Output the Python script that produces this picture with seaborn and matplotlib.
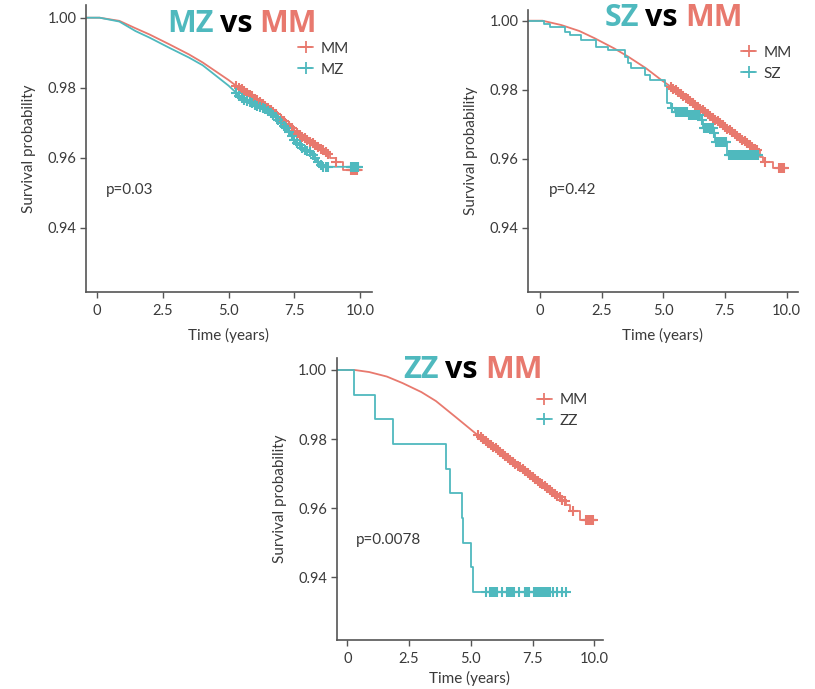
import numpy as np
import pandas as pd
import matplotlib
matplotlib.use("Agg")
import matplotlib.pyplot as plt
from matplotlib.lines import Line2D
import seaborn as sns

sns.set_theme(style="ticks")
plt.rcParams['font.family'] = ['Lato', 'DejaVu Sans']

TEAL = "#4fb9be"
RED = "#e8796e"

# ---------------- Panel 1: MZ vs MM ----------------
mm1_t = [-0.42, 0.1, 0.85, 1.46, 2.0, 2.75, 3.5, 4.02, 5.0,
         5.3, 5.4, 5.5, 5.6, 5.7, 5.8, 5.9, 6.0, 6.1, 6.2, 6.3, 6.4, 6.5, 6.6, 6.7, 6.8, 6.9, 7.0,
         7.1, 7.2, 7.3, 7.4, 7.5, 7.6, 7.7, 7.8, 7.9, 8.0, 8.1, 8.2, 8.3, 8.4, 8.5, 8.6, 8.7, 8.8]
mm1_s = [1.0, 1.0, 0.9991, 0.9970, 0.9952, 0.9924, 0.9895, 0.9872, 0.9822,
         0.9805, 0.9800, 0.9795, 0.9790, 0.9785, 0.9780, 0.9775, 0.9769, 0.9764, 0.9759, 0.9754,
         0.9749, 0.9743, 0.9737, 0.9730, 0.9724, 0.9717, 0.9711, 0.9704, 0.9697, 0.9690, 0.9684,
         0.9677, 0.9671, 0.9666, 0.9660, 0.9655, 0.9650, 0.9645, 0.9641, 0.9636, 0.9631, 0.9626,
         0.9622, 0.9617, 0.9612]
mm1_tail_t = [8.8, 8.85, 9.1, 9.35, 10.06]
mm1_tail_s = [0.9612, 0.9600, 0.9589, 0.9565, 0.9565]
mm1_cens_t = [9.1, 9.65, 9.7, 9.75, 9.8, 9.85, 9.9]
mm1_cens_s = [0.9589, 0.9565, 0.9565, 0.9565, 0.9565, 0.9565, 0.9565]

mz1_t = [-0.42, 0.1, 0.85, 1.46, 2.0, 2.75, 3.5, 4.02, 5.0,
         5.3, 5.4, 5.5, 5.6, 5.7, 5.8, 5.9, 6.0, 6.1, 6.2, 6.3, 6.4, 6.5, 6.6, 6.7, 6.8, 6.9, 7.0,
         7.1, 7.2, 7.3, 7.4, 7.5, 7.6, 7.7, 7.8, 7.9, 8.0, 8.1, 8.2, 8.3, 8.4, 8.5, 8.6, 8.7, 8.8,
         9.65, 9.7, 9.75, 9.8, 9.85, 9.9, 9.94]
mz1_s = [1.0, 1.0, 0.9989, 0.9962, 0.9943, 0.9914, 0.9886, 0.9864, 0.9806,
         0.9785, 0.9777, 0.9771, 0.9766, 0.9762, 0.9758, 0.9755, 0.9752, 0.9749, 0.9746, 0.9742,
         0.9738, 0.9733, 0.9727, 0.9721, 0.9715, 0.9709, 0.9700, 0.9692, 0.9684, 0.9674, 0.9663,
         0.9652, 0.9643, 0.9636, 0.9629, 0.9623, 0.9619, 0.9615, 0.9607, 0.9598, 0.9589, 0.9580,
         0.9574, 0.9574, 0.9574,
         0.9574, 0.9574, 0.9574, 0.9574, 0.9574, 0.9574, 0.9574]

# ---------------- Panel 2: SZ vs MM ----------------
mm2_t = [-0.49, 0.1, 0.86, 1.6, 2.22, 3.0, 3.57, 4.3, 4.92,
         5.3, 5.4, 5.5, 5.6, 5.7, 5.8, 5.9, 6.0, 6.1, 6.2, 6.3, 6.4, 6.5, 6.6, 6.7, 6.8, 6.9, 7.0,
         7.1, 7.2, 7.3, 7.4, 7.5, 7.6, 7.7, 7.8, 7.9, 8.0, 8.1, 8.2, 8.3, 8.4, 8.5, 8.6, 8.7, 8.8]
mm2_s = [1.0, 1.0, 0.99875, 0.9970, 0.9949, 0.9920, 0.9896, 0.9862, 0.9828,
         0.9809, 0.9803, 0.9798, 0.9793, 0.9788, 0.9782, 0.9777, 0.9772, 0.9767, 0.9761, 0.9756,
         0.9751, 0.9745, 0.9740, 0.9735, 0.9729, 0.9724, 0.9719, 0.9713, 0.9708, 0.9703, 0.9697,
         0.9692, 0.9687, 0.9682, 0.9676, 0.9671, 0.9666, 0.9661, 0.9655, 0.9650, 0.9645, 0.9640,
         0.9634, 0.9629, 0.9624]
mm2_tail_t = [8.8, 8.9, 9.05, 9.45, 10.05]
mm2_tail_s = [0.9624, 0.9606, 0.9591, 0.9572, 0.9572]
mm2_cens_t = [9.12, 9.7, 9.75, 9.8, 9.85, 9.9]
mm2_cens_s = [0.9591, 0.9572, 0.9572, 0.9572, 0.9572, 0.9572]

sz_t = [-0.49, 0.16, 0.39, 1.0, 1.2, 1.68, 2.28, 2.76, 3.43, 3.57, 3.7, 4.24, 4.45,
        5.05, 5.13, 5.33, 5.47, 6.0, 6.49, 6.62, 7.03, 7.1, 7.57, 8.86]
sz_s = [1.0, 0.9990, 0.9981, 0.9968, 0.9959, 0.9944, 0.9925, 0.9915, 0.9896, 0.9876, 0.9862, 0.9843, 0.9828,
        0.9810, 0.9762, 0.9748, 0.9736, 0.9727, 0.9712, 0.9688, 0.9674, 0.9649, 0.9611, 0.9611]
sz_cens_t = [5.35,
             5.5, 5.55, 5.6, 5.65, 5.7, 5.75, 5.8, 5.85, 5.9, 5.95,
             6.05, 6.1, 6.15, 6.2, 6.25, 6.3, 6.35, 6.4, 6.45,
             6.55,
             6.65, 6.7, 6.75, 6.8, 6.85, 6.9, 6.95, 7.0,
             7.05,
             7.15, 7.2, 7.25, 7.3, 7.35, 7.4, 7.45, 7.5, 7.55,
             7.65, 7.7, 7.75, 7.8, 7.85, 7.9, 7.95, 8.0, 8.05, 8.1, 8.15, 8.2, 8.25,
             8.3, 8.35, 8.4, 8.45, 8.5, 8.55, 8.6, 8.65, 8.7, 8.75, 8.8, 8.85]
sz_cens_s = ([0.9748] + [0.9736] * 10 + [0.9727] * 9 + [0.9712] + [0.9688] * 8 + [0.9674]
             + [0.9649] * 9 + [0.9611] * 25)

# ---------------- Panel 3: ZZ vs MM ----------------
mm3_t = [-0.43, 0.3, 0.89, 1.6, 2.24, 3.0, 3.59, 4.4, 5.2,
         5.3, 5.4, 5.5, 5.6, 5.7, 5.8, 5.9, 6.0, 6.1, 6.2, 6.3, 6.4, 6.5, 6.6, 6.7, 6.8, 6.9, 7.0,
         7.1, 7.2, 7.3, 7.4, 7.5, 7.6, 7.7, 7.8, 7.9, 8.0, 8.1, 8.2, 8.3, 8.4, 8.5, 8.6, 8.7, 8.8]
mm3_s = [1.0, 1.0, 0.9994, 0.9981, 0.9962, 0.9936, 0.9910, 0.9863, 0.9816,
         0.9811, 0.9806, 0.9800, 0.9795, 0.9789, 0.9784, 0.9778, 0.9773, 0.9767, 0.9762, 0.9756,
         0.9751, 0.9745, 0.9740, 0.9734, 0.9729, 0.9723, 0.9718, 0.9713, 0.9707, 0.9701, 0.9696,
         0.9690, 0.9685, 0.9680, 0.9674, 0.9669, 0.9663, 0.9658, 0.9652, 0.9647, 0.9641, 0.9636,
         0.9631, 0.9625, 0.9620]
mm3_tail_t = [8.8, 8.85, 9.02, 9.42, 10.1]
mm3_tail_s = [0.9620, 0.9610, 0.9591, 0.9567, 0.9567]
mm3_cens_t = [9.15, 9.65, 9.7, 9.75, 9.8, 9.85, 9.9, 9.94]
mm3_cens_s = [0.9591, 0.9567, 0.9567, 0.9567, 0.9567, 0.9567, 0.9567, 0.9567]

zz_t = [-0.43, 0.28, 1.12, 1.84, 3.98, 4.16, 4.63, 4.7, 5.0, 5.1, 8.81]
zz_s = [1.0, 0.9928, 0.9858, 0.9785, 0.9714, 0.9643, 0.9571, 0.9500, 0.9431, 0.9358, 0.9358]
zz_cens_t = [5.62, 5.78, 5.85, 5.9, 5.95, 6.0, 6.05, 6.25, 6.45, 6.5, 6.55, 6.6, 6.65, 6.7, 6.75,
             6.95, 7.2, 7.25, 7.3, 7.35, 7.55, 7.6, 7.65, 7.7, 7.75, 7.8, 7.85, 7.9, 7.95, 8.0,
             8.05, 8.1, 8.15, 8.2, 8.34, 8.48, 8.68, 8.85]
zz_cens_s = [0.9358] * len(zz_cens_t)

p_values = ["p=0.03", "p=0.42", "p=0.0078"]
group_names = ["MZ", "SZ", "ZZ"]
y_ticks = [0.94, 0.96, 0.98, 1.00]
x_ticks = [0, 2.5, 5.0, 7.5, 10.0]
x_tick_labels = ["0", "2.5", "5.0", "7.5", "10.0"]

W, H = 815, 689
fig = plt.figure(figsize=(W / 100, H / 100), dpi=100)
TXT = "#3a3a3a"


def px_axes(l, t, r, b):
    return fig.add_axes([l / W, 1 - b / H, (r - l) / W, (b - t) / H])


def mark(ax, x, y, color):
    ax.plot(x, y, ls="none", marker="+", markersize=7.5, mew=1.5, color=color, zorder=3)


def smooth(ax, t, s, color):
    sns.lineplot(x=t, y=s, ax=ax, color=color, lw=1.3, estimator=None, sort=False, zorder=2)


def steps(ax, t, s, color):
    sns.lineplot(x=t, y=s, ax=ax, color=color, lw=1.3, estimator=None, sort=False,
                 drawstyle="steps-post", zorder=2)


def style(ax, xlim, ylim, grp, pval, legend_xy, xlabelpad):
    ax.set_xlim(*xlim)
    ax.set_ylim(*ylim)
    ax.set_xticks(x_ticks)
    ax.set_xticklabels(x_tick_labels)
    ax.set_yticks(y_ticks)
    ax.set_yticklabels([f"{v:.2f}" for v in y_ticks])
    sns.despine(ax=ax)
    for sp in ["left", "bottom"]:
        ax.spines[sp].set_color("#555555")
        ax.spines[sp].set_linewidth(1.2)
    ax.tick_params(length=4, width=1, color="#555555", labelcolor=TXT, labelsize=10.5, pad=3)
    ax.tick_params(axis="x", pad=4.5)
    ax.set_xlabel("Time (years)", fontsize=11, color=TXT, labelpad=xlabelpad)
    ax.set_ylabel("Survival probability", fontsize=11, color=TXT, labelpad=8)
    ax.text(0.35, 0.9508, pval, fontsize=11, color=TXT, va="center", ha="left")
    handles = [Line2D([], [], color=RED, marker="+", markersize=8, mew=1.3, lw=1.3),
               Line2D([], [], color=TEAL, marker="+", markersize=8, mew=1.3, lw=1.3)]
    ax.legend(handles, ["MM", grp], loc="upper left", bbox_to_anchor=legend_xy,
              frameon=False, fontsize=11, handlelength=1.0, handletextpad=0.5,
              labelspacing=0.45, borderaxespad=0, borderpad=0, labelcolor=TXT)


# Panel 1
ax1 = px_axes(86, 5, 372, 292)
smooth(ax1, mm1_t, mm1_s, RED)
steps(ax1, mm1_tail_t, mm1_tail_s, RED)
smooth(ax1, mz1_t, mz1_s, TEAL)
mark(ax1, [t for t in mm1_t if t >= 5.3], [s for t, s in zip(mm1_t, mm1_s) if t >= 5.3], RED)
mark(ax1, mm1_cens_t, mm1_cens_s, RED)
mark(ax1, [t for t in mz1_t if t >= 5.3], [s for t, s in zip(mz1_t, mz1_s) if t >= 5.3], TEAL)
style(ax1, (-0.418, 10.456), (0.92163, 1.00363), group_names[0], p_values[0], (0.741, 0.872), 7)

# Panel 2
ax2 = px_axes(528, 10, 798, 292)
smooth(ax2, mm2_t, mm2_s, RED)
steps(ax2, mm2_tail_t, mm2_tail_s, RED)
steps(ax2, sz_t, sz_s, TEAL)
mark(ax2, [t for t in mm2_t if t >= 5.3], [s for t, s in zip(mm2_t, mm2_s) if t >= 5.3], RED)
mark(ax2, mm2_cens_t, mm2_cens_s, RED)
mark(ax2, sz_cens_t, sz_cens_s, TEAL)
style(ax2, (-0.486, 10.46), (0.92136, 1.0031), group_names[1], p_values[1], (0.789, 0.873), 7)

# Panel 3
ax3 = px_axes(336.7, 358, 603, 640)
smooth(ax3, mm3_t, mm3_s, RED)
steps(ax3, mm3_tail_t, mm3_tail_s, RED)
steps(ax3, zz_t, zz_s, TEAL)
mark(ax3, [t for t in mm3_t if t >= 5.3], [s for t, s in zip(mm3_t, mm3_s) if t >= 5.3], RED)
mark(ax3, mm3_cens_t, mm3_cens_s, RED)
mark(ax3, zz_cens_t, zz_cens_s, TEAL)
style(ax3, (-0.429, 10.35), (0.92185, 1.00347), group_names[2], p_values[2], (0.751, 0.876), 4)

# Titles
title_font = dict(family=["Open Sans", "DejaVu Sans"], weight="bold", fontsize=22, va="baseline")
for grp, (xg, xv, xm, yb) in zip(group_names, [(214, 236, 259, 31.5), (639, 661, 685, 26.5), (439, 461, 485, 378.3)]):
    fig.text(xg / W, 1 - yb / H, grp, color=TEAL, ha="right", **title_font)
    fig.text(xv / W, 1 - yb / H, "vs", color="black", ha="center", **title_font)
    fig.text(xm / W, 1 - yb / H, "MM", color=RED, ha="left", **title_font)

fig.savefig("out.png", dpi=100, facecolor="white")
